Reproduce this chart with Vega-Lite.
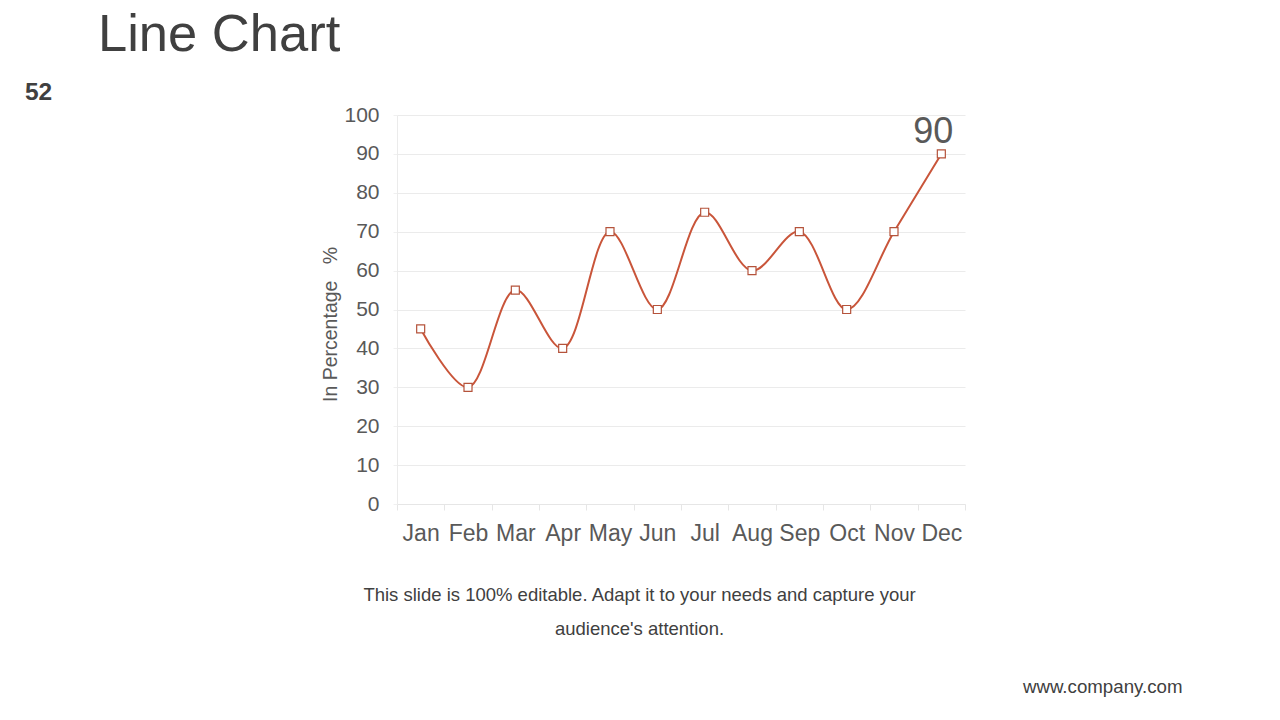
{
  "$schema": "https://vega.github.io/schema/vega-lite/v6.json",
  "autosize": "none",
  "width": 568,
  "height": 389,
  "padding": {"left": 397, "top": 115, "right": 315, "bottom": 216},
  "background": "white",
  "config": {
    "font": "Liberation Sans",
    "view": {"stroke": null},
    "axis": {"labelFont": "Liberation Sans", "titleFont": "Liberation Sans"}
  },
  "title": {
    "text": "Line Chart",
    "anchor": "start",
    "frame": "group",
    "dx": -299,
    "offset": 17,
    "fontSize": 52.5,
    "fontWeight": "normal",
    "color": "#404040",
    "font": "Liberation Sans"
  },
  "data": {
    "values": [
      {"month": "Jan", "value": 45},
      {"month": "Feb", "value": 30},
      {"month": "Mar", "value": 55},
      {"month": "Apr", "value": 40},
      {"month": "May", "value": 70},
      {"month": "Jun", "value": 50},
      {"month": "Jul", "value": 75},
      {"month": "Aug", "value": 60},
      {"month": "Sep", "value": 70},
      {"month": "Oct", "value": 50},
      {"month": "Nov", "value": 70},
      {"month": "Dec", "value": 90}
    ]
  },
  "layer": [
    {
      "mark": {"type": "line", "interpolate": "catmull-rom", "color": "#C9553A", "strokeWidth": 2},
      "encoding": {
        "x": {
          "field": "month",
          "type": "ordinal",
          "sort": null,
          "scale": {"paddingInner": 0, "paddingOuter": 0},
          "axis": {
            "labelAngle": 0,
            "labelFontSize": 23,
            "labelColor": "#595959",
            "labelPadding": 12,
            "tickBand": "extent",
            "tickColor": "#E6E6E6",
            "tickSize": 6,
            "domainColor": "#E6E6E6",
            "grid": false,
            "title": ["This slide is 100% editable. Adapt it to your needs and capture your", "audience's attention."],
            "titleFontSize": 18.5,
            "titleFontWeight": "normal",
            "titleColor": "#404040",
            "titleLineHeight": 34,
            "titleX": 242,
            "titleY": 96,
            "titleAlign": "center",
            "titleBaseline": "alphabetic"
          }
        },
        "y": {
          "field": "value",
          "type": "quantitative",
          "scale": {"domain": [0, 100]},
          "axis": {
            "values": [0, 10, 20, 30, 40, 50, 60, 70, 80, 90, 100],
            "labelFontSize": 21,
            "labelColor": "#595959",
            "labelPadding": 14,
            "tickSize": 4,
            "tickColor": "#F0F0F0",
            "domainColor": "#EBEBEB",
            "gridColor": "#EBEBEB",
            "title": "In Percentage\u00a0\u00a0 %",
            "titleFontSize": 19.5,
            "titleFontWeight": "normal",
            "titleColor": "#595959",
            "titlePadding": 3,
            "titleY": 209
          }
        }
      }
    },
    {
      "mark": {"type": "point", "shape": "square", "filled": true, "fill": "white", "stroke": "#B5533B", "strokeWidth": 1.2, "size": 64, "opacity": 1},
      "encoding": {
        "x": {"field": "month", "type": "ordinal", "sort": null, "axis": null},
        "y": {"field": "value", "type": "quantitative", "axis": null}
      }
    },
    {
      "transform": [{"filter": "datum.month === 'Dec'"}],
      "mark": {"type": "text", "fontSize": 36, "color": "#595959", "dx": -8, "dy": -11, "baseline": "alphabetic", "align": "center"},
      "encoding": {
        "x": {"field": "month", "type": "ordinal", "sort": null, "axis": null},
        "y": {"field": "value", "type": "quantitative", "axis": null},
        "text": {"field": "value", "type": "quantitative"}
      }
    },
    {
      "mark": {"type": "point", "opacity": 0},
      "encoding": {
        "x": {
          "field": "month",
          "type": "ordinal",
          "sort": null,
          "axis": {
            "orient": "top",
            "labels": false,
            "ticks": false,
            "domain": false,
            "grid": false,
            "title": "www.company.com",
            "titleFontSize": 18.7,
            "titleFontWeight": "normal",
            "titleColor": "#404040",
            "titleX": 785,
            "titleY": 577,
            "titleAlign": "right",
            "titleBaseline": "alphabetic"
          }
        },
        "y": {
          "field": "value",
          "type": "quantitative",
          "axis": {
            "orient": "right",
            "labels": false,
            "ticks": false,
            "domain": false,
            "grid": false,
            "title": "52",
            "titleAngle": 0,
            "titleFontSize": 24.5,
            "titleFontWeight": "bold",
            "titleColor": "#404040",
            "titleX": -927,
            "titleY": -16,
            "titleAlign": "center",
            "titleBaseline": "alphabetic"
          }
        }
      }
    }
  ],
  "resolve": {"axis": {"x": "independent", "y": "independent"}}
}
